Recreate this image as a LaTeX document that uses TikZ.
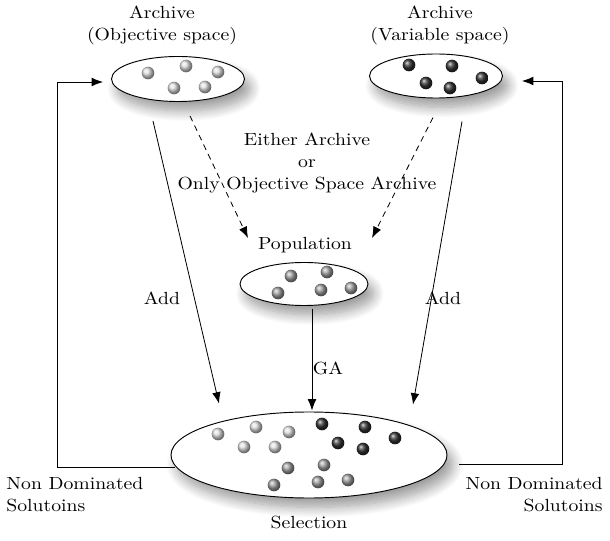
\documentclass[tikz,border=0pt]{standalone}
\usepackage{fontspec}
\setmainfont{lmroman10-regular.otf}[FakeStretch=1.12]
\usepackage{tikz}
\usetikzlibrary{shapes.geometric, arrows.meta, positioning, calc, shadows.blur}
\tikzset{
  pool/.style={ellipse, draw=black, line width=0.8pt, fill=white, inner sep=0pt,
               blur shadow={shadow xshift=5pt, shadow yshift=-8pt,
                            shadow blur radius=9pt, shadow blur steps=12,
                            shadow opacity=40}},
  lbl/.style={font=\fontsize{15}{18.7}\selectfont, align=center, inner sep=1pt},
  arrow/.style={-{Latex[length=3.4mm,width=2.6mm]}, line width=0.7pt, black},
  darrow/.style={arrow, dash pattern=on 5pt off 4pt},
  lball/.style={ball color=gray!25},
  mball/.style={ball color=gray!75},
  dball/.style={ball color=black!80},
}

\begin{document}
\begin{tikzpicture}[x=0.03cm, y=-0.03cm]
  \useasboundingbox (0,0) rectangle (610,541);

  % ellipses
  \node[pool, minimum width=3.99cm, minimum height=1.35cm] (arcObj) at (178,79) {};
  \node[pool, minimum width=3.99cm, minimum height=1.32cm] (arcVar) at (436,76) {};
  \node[pool, minimum width=3.84cm, minimum height=1.29cm] (pop) at (304,284) {};
  \node[pool, minimum width=8.28cm, minimum height=2.58cm] (sel) at (309,455) {};

  % balls
  \foreach \p in {(148,73),(186,66),(174,88),(205,87),(218,72)}
    \shade[lball] \p circle (0.19cm);
  \foreach \p in {(409,65),(452,66),(482,78),(426,83),(450,88)}
    \shade[dball] \p circle (0.19cm);
  \foreach \p in {(291,276),(327,272),(278,293),(321,290),(351,288)}
    \shade[mball] \p circle (0.19cm);
  \foreach \p in {(218,434),(256,427),(289,432),(244,447),(275,447)}
    \shade[lball] \p circle (0.19cm);
  \foreach \p in {(322,424),(365,427),(395,438),(338,443),(363,449)}
    \shade[dball] \p circle (0.19cm);
  \foreach \p in {(288,468),(324,465),(274,485),(318,482),(348,480)}
    \shade[mball] \p circle (0.19cm);

  % labels
  \node[lbl] (tObj) at (162,25) {Archive\\(Objective space)};
  \node[lbl] (tVar) at (440,25) {Archive\\(Variable space)};
  \node[lbl] (tEither) at (307,163) {Either Archive\\or\\Only Objective Space Archive};
  \node[lbl] (tPop) at (305,245) {Population};
  \node[lbl] (tAddL) at (162,298) {Add};
  \node[lbl] (tAddR) at (443,298) {Add};
  \node[lbl] (tGA) at (328,368) {GA};
  \node[lbl] (tSel) at (309,522) {Selection};
  \node[lbl, align=left, anchor=west] (tNdL) at (5,495) {Non Dominated\\Solutoins};
  \node[lbl, align=right, anchor=east] (tNdR) at (604,495) {Non Dominated\\Solutoins};

  % connectors
  \draw[darrow] ($(arcObj.south)+(12,14)$) -- ($(pop.north)+(-56,-24)$);
  \draw[darrow] ($(arcVar.south)+(-3,19)$) -- ($(pop.north)+(68,-24)$);
  \draw[arrow] ($(arcObj.south)+(-25,19)$) -- ($(sel.north)+(-90,-8)$);
  \draw[arrow] ($(arcVar.south)+(26,23)$) -- ($(sel.north)+(104,-7)$);
  \draw[arrow] ($(pop.south)+(8,3)$) -- ($(sel.north)+(3,-1)$);

  \coordinate (loopL) at (57,82);
  \coordinate (loopR) at (562,81);
  \draw[arrow] ($(sel.west)+(4,12)$) -| (loopL) -- ($(arcObj.west)+(-8,3)$);
  \draw[arrow] ($(sel.east)+(12,9)$) -| (loopR) -- ($(arcVar.east)+(19,5)$);
\end{tikzpicture}
\end{document}
